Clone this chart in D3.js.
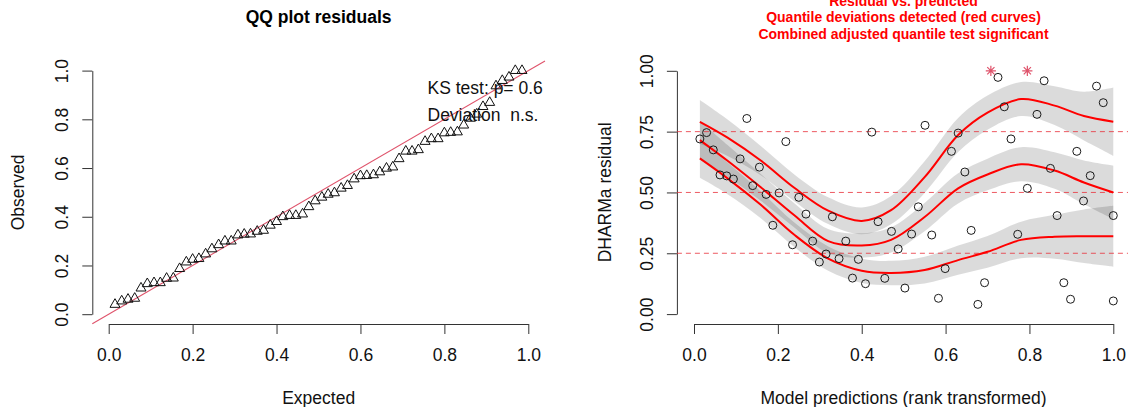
<!DOCTYPE html>
<html><head><meta charset="utf-8">
<script src="https://cdn.jsdelivr.net/npm/d3@7"></script>
<style>
body{margin:0;background:#fff}
svg{display:block;font-family:"Liberation Sans",Arial,Helvetica,sans-serif}
text{white-space:pre}
</style>
</head><body>
<svg id="c" width="1128" height="407"></svg>
<script>
// ---------- data ----------
const qqTitle = "QQ plot residuals";
const qqXLabel = "Expected";
const qqYLabel = "Observed";
const ksLines = ["KS test: p= 0.6", "Deviation  n.s."];

const qqExpected = [0.015,0.031,0.046,0.062,0.077,0.092,0.108,0.123,0.138,0.154,0.169,0.185,0.200,0.215,0.231,0.246,0.262,0.277,0.292,0.308,0.323,0.338,0.354,0.369,0.385,0.400,0.415,0.431,0.446,0.462,0.477,0.492,0.508,0.523,0.538,0.554,0.569,0.585,0.600,0.615,0.631,0.646,0.662,0.677,0.692,0.708,0.723,0.738,0.754,0.769,0.785,0.800,0.815,0.831,0.846,0.862,0.877,0.892,0.908,0.923,0.938,0.954,0.969,0.985];
const qqObserved = [0.040,0.054,0.061,0.065,0.107,0.125,0.129,0.129,0.147,0.148,0.187,0.214,0.225,0.228,0.247,0.268,0.285,0.300,0.300,0.325,0.328,0.329,0.340,0.344,0.365,0.380,0.400,0.405,0.405,0.411,0.441,0.465,0.480,0.492,0.498,0.517,0.528,0.555,0.568,0.569,0.572,0.584,0.599,0.604,0.638,0.669,0.669,0.675,0.709,0.720,0.720,0.744,0.746,0.748,0.776,0.804,0.821,0.852,0.869,0.937,0.959,0.973,1.000,1.000];

const xTicks = [0, 0.2, 0.4, 0.6, 0.8, 1.0];
const qqYTicks = [0, 0.2, 0.4, 0.6, 0.8, 1.0];
const resYTicks = [0, 0.25, 0.5, 0.75, 1.0];

const resTitle = ["Residual vs. predicted", "Quantile deviations detected (red curves)", "Combined adjusted quantile test significant"];
const resXLabel = "Model predictions (rank transformed)";
const resYLabel = "DHARMa residual";

const predX = [0.014,0.030,0.046,0.062,0.078,0.094,0.110,0.126,0.140,0.156,0.172,0.188,0.203,0.219,0.235,0.250,0.267,0.283,0.299,0.315,0.330,0.346,0.362,0.378,0.392,0.409,0.424,0.439,0.455,0.471,0.487,0.503,0.519,0.535,0.551,0.567,0.583,0.599,0.614,0.630,0.646,0.661,0.677,0.693,0.725,0.740,0.756,0.772,0.795,0.818,0.835,0.850,0.866,0.882,0.898,0.913,0.929,0.945,0.960,0.976,1.000,1.000];
const residY = [0.720,0.746,0.675,0.572,0.568,0.555,0.638,0.804,0.528,0.604,0.492,0.365,0.498,0.709,0.285,0.480,0.411,0.300,0.214,0.247,0.400,0.228,0.300,0.148,0.225,0.125,0.748,0.380,0.147,0.340,0.268,0.107,0.329,0.441,0.776,0.325,0.065,0.187,0.669,0.744,0.584,0.344,0.040,0.129,0.973,0.852,0.720,0.328,0.517,0.821,0.959,0.599,0.405,0.129,0.061,0.669,0.465,0.569,0.937,0.869,0.405,0.054];
const outlierX = [0.708, 0.795];
const outlierY = [1.0, 1.0];

const quantileLevels = [0.25, 0.5, 0.75];

const curveX = [0.014,0.08,0.16,0.24,0.32,0.40,0.47,0.55,0.63,0.70,0.78,0.86,0.93,1.0];
const q75 = [0.790,0.725,0.630,0.518,0.425,0.383,0.427,0.563,0.736,0.828,0.884,0.857,0.814,0.791];
const q75hi = [0.880,0.800,0.690,0.573,0.480,0.438,0.485,0.628,0.806,0.898,0.954,0.937,0.914,0.931];
const q75lo = [0.700,0.650,0.570,0.463,0.370,0.328,0.369,0.498,0.666,0.758,0.814,0.777,0.714,0.651];
const q50 = [0.715,0.630,0.520,0.405,0.300,0.282,0.305,0.399,0.517,0.574,0.616,0.590,0.541,0.500];
const q50hi = [0.795,0.695,0.575,0.455,0.350,0.332,0.357,0.457,0.579,0.639,0.686,0.665,0.631,0.610];
const q50lo = [0.635,0.565,0.465,0.355,0.250,0.232,0.253,0.341,0.455,0.509,0.546,0.515,0.451,0.390];
const q25 = [0.640,0.558,0.448,0.325,0.228,0.178,0.169,0.181,0.222,0.256,0.305,0.318,0.320,0.320];
const q25hi = [0.720,0.623,0.503,0.375,0.278,0.228,0.219,0.236,0.282,0.321,0.380,0.408,0.430,0.445];
const q25lo = [0.560,0.493,0.393,0.275,0.178,0.128,0.119,0.126,0.162,0.191,0.230,0.228,0.210,0.195];

// ---------- layout ----------
const FS = 17.5;
const svg = d3.select("#c");
const plotTop = 60.7, plotBottom = 324;

function drawAxes(g, x, y, yTicks, yFmt, region) {
  const xa = g.append("g").attr("transform", `translate(0,${plotBottom})`)
    .call(d3.axisBottom(x).tickValues(xTicks).tickFormat(d3.format(".1f")).tickSize(10).tickSizeOuter(0).tickPadding(14.5));
  const ya = g.append("g").attr("transform", `translate(${region.x0},0)`)
    .call(d3.axisLeft(y).tickValues(yTicks).tickFormat(yFmt).tickSize(10).tickSizeOuter(0));
  [xa, ya].forEach(a => {
    a.selectAll("path,line").attr("stroke", "#333").attr("stroke-width", 1);
    a.selectAll("text").attr("fill", "#111").style("font-size", FS + "px").style("font-family", null);
    a.attr("font-family", null).attr("font-size", null);
  });
  ya.selectAll("text").attr("x", null).attr("dy", "0.35em").attr("text-anchor", "middle")
    .attr("transform", "translate(-30.5,0) rotate(-90)");
}

// ---------- left: QQ plot ----------
{
  const region = {x0: 92.3, x1: 545};
  const x = d3.scaleLinear().domain([0, 1]).range([108.7, 528.3]);
  const y = d3.scaleLinear().domain([0, 1]).range([314.2, 70.6]);
  const g = svg.append("g");
  const cx = (region.x0 + region.x1) / 2;

  g.append("text").attr("x", cx).attr("y", 23).attr("text-anchor", "middle")
    .style("font-size", FS + "px").style("font-weight", "bold").attr("fill", "#000").text(qqTitle);

  drawAxes(g, x, y, qqYTicks, d3.format(".1f"), region);

  g.append("text").attr("x", cx).attr("y", 404).attr("text-anchor", "middle")
    .style("font-size", FS + "px").attr("fill", "#111").text(qqXLabel);
  g.append("text").attr("transform", `translate(18,${(plotTop + plotBottom) / 2}) rotate(-90)`)
    .attr("dy", "0.35em").attr("text-anchor", "middle")
    .style("font-size", FS + "px").attr("fill", "#111").text(qqYLabel);

  // 1:1 line across the plot region
  const lo = x.invert(region.x0), hi = x.invert(region.x1);
  g.append("line").attr("x1", x(lo)).attr("y1", y(lo)).attr("x2", x(hi)).attr("y2", y(hi))
    .attr("stroke", "#DF536B").attr("stroke-width", 1.1);

  const tri = (px, py) => {
    const xc = 3.7, r = 1.5551 * xc, yc = 0.7776 * xc, xw = 1.3468 * xc;
    return `M${px},${py - r}L${px + xw},${py + yc}L${px - xw},${py + yc}Z`;
  };
  g.append("g").selectAll("path").data(qqExpected).join("path")
    .attr("d", (d, i) => tri(x(d), y(qqObserved[i])))
    .attr("fill", "none").attr("stroke", "#111").attr("stroke-width", 1);

  g.append("g").selectAll("text").data(ksLines).join("text")
    .attr("x", 427.5).attr("y", (d, i) => 94.3 + i * 27)
    .style("font-size", FS + "px").attr("fill", "#111").text(d => d);
}

// ---------- right: residual vs predicted ----------
{
  const region = {x0: 676.9, x1: 1130.1};
  const x = d3.scaleLinear().domain([0, 1]).range([694, 1113.3]);
  const y = d3.scaleLinear().domain([0, 1]).range([314.1, 70.8]);
  const g = svg.append("g");
  const cx = (region.x0 + region.x1) / 2;

  g.append("g").selectAll("text").data(resTitle).join("text")
    .attr("x", cx).attr("y", (d, i) => 5.5 + i * 16.7).attr("text-anchor", "middle")
    .style("font-size", "14px").style("font-weight", "bold").attr("fill", "#FF0000").text(d => d);

  drawAxes(g, x, y, resYTicks, d3.format(".2f"), region);

  g.append("text").attr("x", cx).attr("y", 404).attr("text-anchor", "middle")
    .style("font-size", FS + "px").attr("fill", "#111").text(resXLabel);
  g.append("text").attr("transform", `translate(605,${(plotTop + plotBottom) / 2}) rotate(-90)`)
    .attr("dy", "0.35em").attr("text-anchor", "middle")
    .style("font-size", FS + "px").attr("fill", "#111").text(resYLabel);

  const curve = d3.curveCatmullRom.alpha(0.5);
  const bands = [[q25lo, q25hi], [q50lo, q50hi], [q75lo, q75hi]];
  const area = d3.area().x(d => x(d[0])).y0(d => y(d[1])).y1(d => y(d[2])).curve(curve);
  g.append("g").selectAll("path").data(bands).join("path")
    .attr("d", b => area(curveX.map((cxv, i) => [cxv, b[0][i], b[1][i]])))
    .attr("fill", "rgba(0,0,0,0.14)").attr("stroke", "none");

  // dashed reference lines (above the bands)
  g.append("g").selectAll("line").data(quantileLevels).join("line")
    .attr("x1", region.x0).attr("x2", region.x1)
    .attr("y1", d => y(d)).attr("y2", d => y(d))
    .attr("stroke", "#E8303A").attr("stroke-width", 0.8).attr("stroke-dasharray", "5,4");

  const line = d3.line().x(d => x(d[0])).y(d => y(d[1])).curve(curve);
  g.append("g").selectAll("path").data([q25, q50, q75]).join("path")
    .attr("d", q => line(curveX.map((cxv, i) => [cxv, q[i]])))
    .attr("fill", "none").attr("stroke", "#FF0000").attr("stroke-width", 2);

  g.append("g").selectAll("circle").data(predX).join("circle")
    .attr("cx", d => x(d)).attr("cy", (d, i) => y(residY[i])).attr("r", 4)
    .attr("fill", "none").attr("stroke", "#1a1a1a").attr("stroke-width", 1);

  const star = (px, py) => {
    const a = 3.6, b = a * Math.SQRT2;
    return `M${px - a},${py - a}L${px + a},${py + a}M${px - a},${py + a}L${px + a},${py - a}` +
           `M${px - b},${py}L${px + b},${py}M${px},${py - b}L${px},${py + b}`;
  };
  g.append("g").selectAll("path").data(outlierX).join("path")
    .attr("d", (d, i) => star(x(d), y(outlierY[i])))
    .attr("fill", "none").attr("stroke", "#DF536B").attr("stroke-width", 1.2);
}
</script>
</body></html>
